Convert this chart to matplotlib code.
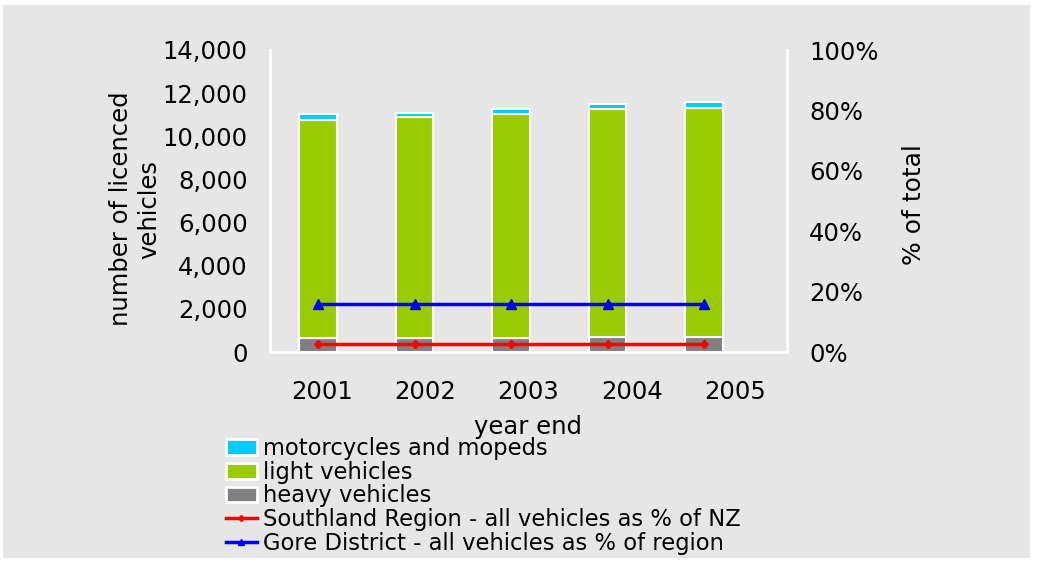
import matplotlib

matplotlib.use("Agg")
import matplotlib.pyplot as plt
from matplotlib.patches import Rectangle, Patch
from matplotlib.lines import Line2D
from matplotlib.ticker import FuncFormatter, NullLocator

years = ["2001", "2002", "2003", "2004", "2005"]
heavy = [650, 650, 650, 700, 700]
light = [10105, 10245, 10405, 10575, 10620]
motorcycles = [255, 200, 230, 230, 260]
southland_pct = [2.7, 2.7, 2.7, 2.7, 2.7]
gore_pct = [16.0, 16.0, 16.0, 16.0, 16.0]

BG = "#e6e6e6"
FS = 17.5
plt.rcParams["font.family"] = ["DejaVu Sans"]

fig = plt.figure(figsize=(10.4, 5.67), dpi=100)
fig.patch.set_facecolor("white")
fig.add_artist(Rectangle((3 / 1040, 1 - 558 / 567), 1027 / 1040, 553 / 567,
                         transform=fig.transFigure, facecolor=BG, edgecolor="none", zorder=-10))

rect = [270 / 1040, 1 - 352 / 567, 517 / 1040, 302 / 567]
ax = fig.add_axes(rect)
ax.set_facecolor(BG)
x = list(range(len(years)))
bottom2 = [h + l for h, l in zip(heavy, light)]
ax.bar(x, heavy, width=0.39, color="#808080", edgecolor="white", linewidth=1.5, zorder=2)
ax.bar(x, light, width=0.39, bottom=heavy, color="#99cc00", edgecolor="white", linewidth=1.5, zorder=2)
ax.bar(x, motorcycles, width=0.39, bottom=bottom2, color="#00ccff", edgecolor="white", linewidth=1.5, zorder=2)
ax.set_xlim(-0.5, 4.86)
ax.set_ylim(0, 14000)
ax.set_yticks(range(0, 14001, 2000))
ax.yaxis.set_major_formatter(FuncFormatter(lambda v, p: f"{int(v):,}"))
ax.xaxis.set_major_locator(NullLocator())
ax.tick_params(axis="y", length=0, labelsize=FS, pad=16)
ax.set_ylabel("number of licenced\nvehicles", fontsize=FS, labelpad=1, linespacing=1.25)
ax.yaxis.label.set_y(0.4735)
for side in ["left", "bottom", "right"]:
    ax.spines[side].set_color("white")
    ax.spines[side].set_linewidth(2)
ax.spines["top"].set_visible(False)

ax2 = ax.twinx()
ax2.plot(x, southland_pct, color="red", marker="D", markersize=4, linewidth=2.5, zorder=5)
ax2.plot(x, gore_pct, color="blue", marker="^", markersize=7, linewidth=2.5, zorder=5)
ax2.set_ylim(0, 100)
ax2.set_yticks(range(0, 101, 20))
ax2.yaxis.set_major_formatter(FuncFormatter(lambda v, p: f"{int(v)}%"))
ax2.tick_params(axis="y", length=0, labelsize=FS, pad=16)
ax2.set_ylabel("% of total", fontsize=18, labelpad=17)
ax2.yaxis.label.set_y(0.487)
for side in ["left", "bottom", "right", "top"]:
    ax2.spines[side].set_visible(False)

# category labels sit on the full-width bands, as in the original
axl = fig.add_axes(rect)
axl.patch.set_visible(False)
axl.set_xlim(-0.5, 4.5)
axl.set_xticks(x)
axl.set_xticklabels(years)
axl.yaxis.set_major_locator(NullLocator())
axl.tick_params(axis="x", length=0, labelsize=FS, pad=20)
axl.set_xlabel("year end", fontsize=FS, labelpad=8)
for side in ["left", "bottom", "right", "top"]:
    axl.spines[side].set_visible(False)

handles = [
    Patch(facecolor="#00ccff", edgecolor="white", linewidth=2),
    Patch(facecolor="#99cc00", edgecolor="white", linewidth=2),
    Patch(facecolor="#808080", edgecolor="white", linewidth=2),
    Line2D([0], [0], color="red", marker="D", markersize=3, linewidth=2.5),
    Line2D([0], [0], color="blue", marker="^", markersize=5, linewidth=2.5),
]
labels = [
    "motorcycles and mopeds",
    "light vehicles",
    "heavy vehicles",
    "Southland Region - all vehicles as % of NZ",
    "Gore District - all vehicles as % of region",
]
fig.legend(handles, labels, loc="upper left", bbox_to_anchor=(226 / 1040, 1 - 437 / 567),
           frameon=False, fontsize=16.3,
           handlelength=1.35, handletextpad=0.3,
           labelspacing=0.03, borderaxespad=0, borderpad=0)

fig.savefig("out.png", dpi=100, facecolor=fig.get_facecolor())
